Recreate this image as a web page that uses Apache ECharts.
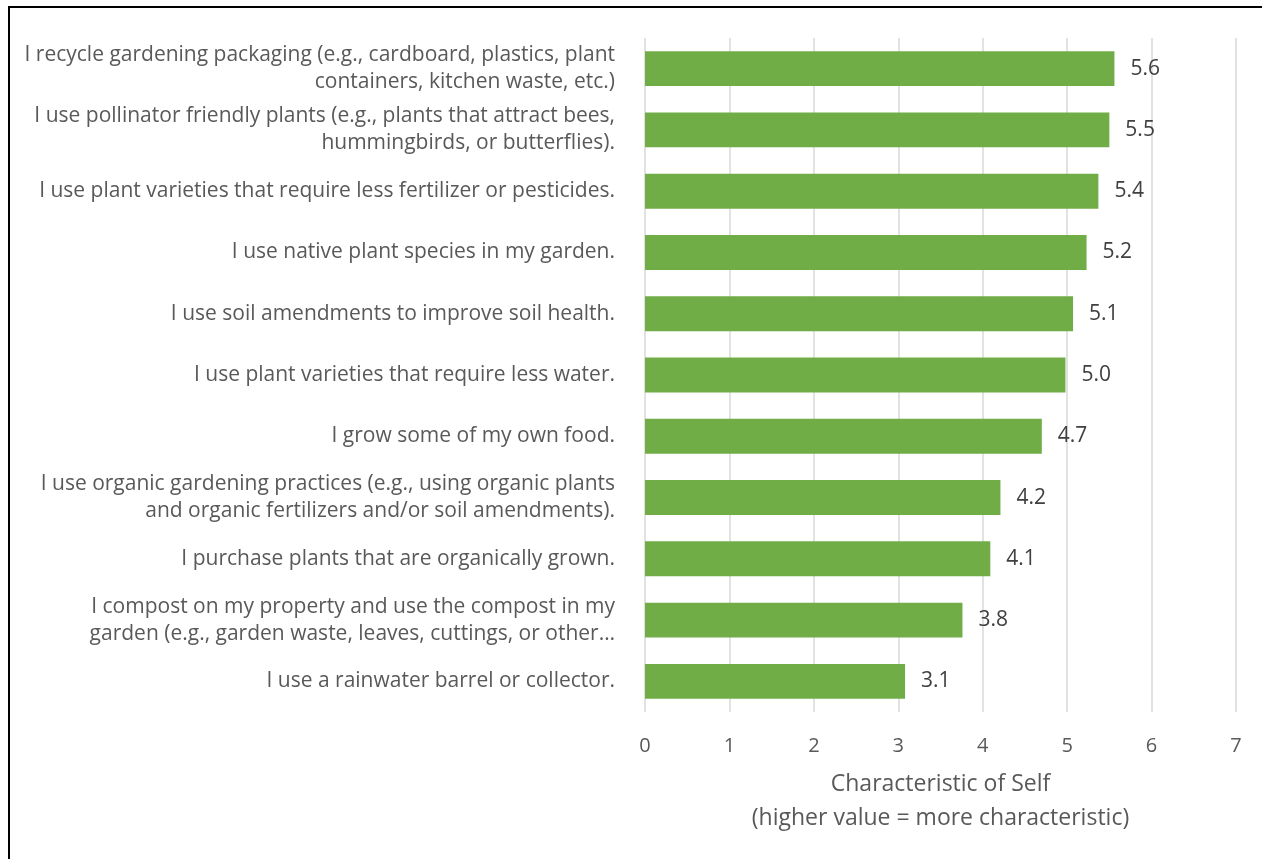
<!DOCTYPE html>
<html>
<head>
<meta charset="utf-8">
<script src="https://cdn.jsdelivr.net/npm/echarts@6/dist/echarts.min.js"></script>
<style>
  html, body { margin: 0; padding: 0; background: #fff; }
  #chart { width: 1262px; height: 859px; }
</style>
</head>
<body>
<div id="chart"></div>
<script>
  // practices, top to bottom
  var categories = [
    'I recycle gardening packaging (e.g., cardboard, plastics, plant\ncontainers, kitchen waste, etc.)',
    'I use pollinator friendly plants (e.g., plants that attract bees,\nhummingbirds, or butterflies).',
    'I use plant varieties that require less fertilizer or pesticides.',
    'I use native plant species in my garden.',
    'I use soil amendments to improve soil health.',
    'I use plant varieties that require less water.',
    'I grow some of my own food.',
    'I use organic gardening practices (e.g., using organic plants\nand organic fertilizers and/or soil amendments).',
    'I purchase plants that are organically grown.',
    'I compost on my property and use the compost in my\ngarden (e.g., garden waste, leaves, cuttings, or other\u2026',
    'I use a rainwater barrel or collector.'
  ];
  var values = [5.56, 5.50, 5.37, 5.23, 5.07, 4.98, 4.70, 4.21, 4.09, 3.76, 3.08];
  var axisTicks = [0, 7, 1]; // min, max, step

  var font = 'Open Sans';
  var chart = echarts.init(document.getElementById('chart'));
  chart.setOption({
    animation: false,
    textStyle: { fontFamily: font },
    grid: { left: 645, right: 26, top: 38, bottom: 147, containLabel: false },
    graphic: [{
      type: 'rect',
      shape: { x: 9, y: 7, width: 1400, height: 1000 },
      style: { fill: 'none', stroke: '#000', lineWidth: 2 }
    }],
    xAxis: {
      type: 'value',
      min: axisTicks[0],
      max: axisTicks[1],
      interval: axisTicks[2],
      axisLine: { show: false },
      axisTick: { show: false },
      splitLine: { lineStyle: { color: '#d9d9d9', width: 1.5 } },
      axisLabel: { color: '#595959', fontSize: 20, margin: 24 },
      name: 'Characteristic of Self\n(higher value = more characteristic)',
      nameLocation: 'middle',
      nameGap: 55,
      nameTextStyle: { color: '#595959', fontSize: 23, lineHeight: 34, verticalAlign: 'top' }
    },
    yAxis: {
      type: 'category',
      inverse: true,
      data: categories,
      axisLine: { show: false },
      axisTick: { show: false },
      axisLabel: { color: '#595959', fontSize: 21, lineHeight: 27, margin: 30, align: 'right' }
    },
    series: [{
      type: 'bar',
      data: values,
      barCategoryGap: '43%',
      itemStyle: { color: '#70ad47' },
      label: {
        show: true,
        position: 'right',
        distance: 16,
        color: '#404040',
        fontSize: 21,
        formatter: function (p) { return p.value.toFixed(1); }
      }
    }]
  });
</script>
</body>
</html>
